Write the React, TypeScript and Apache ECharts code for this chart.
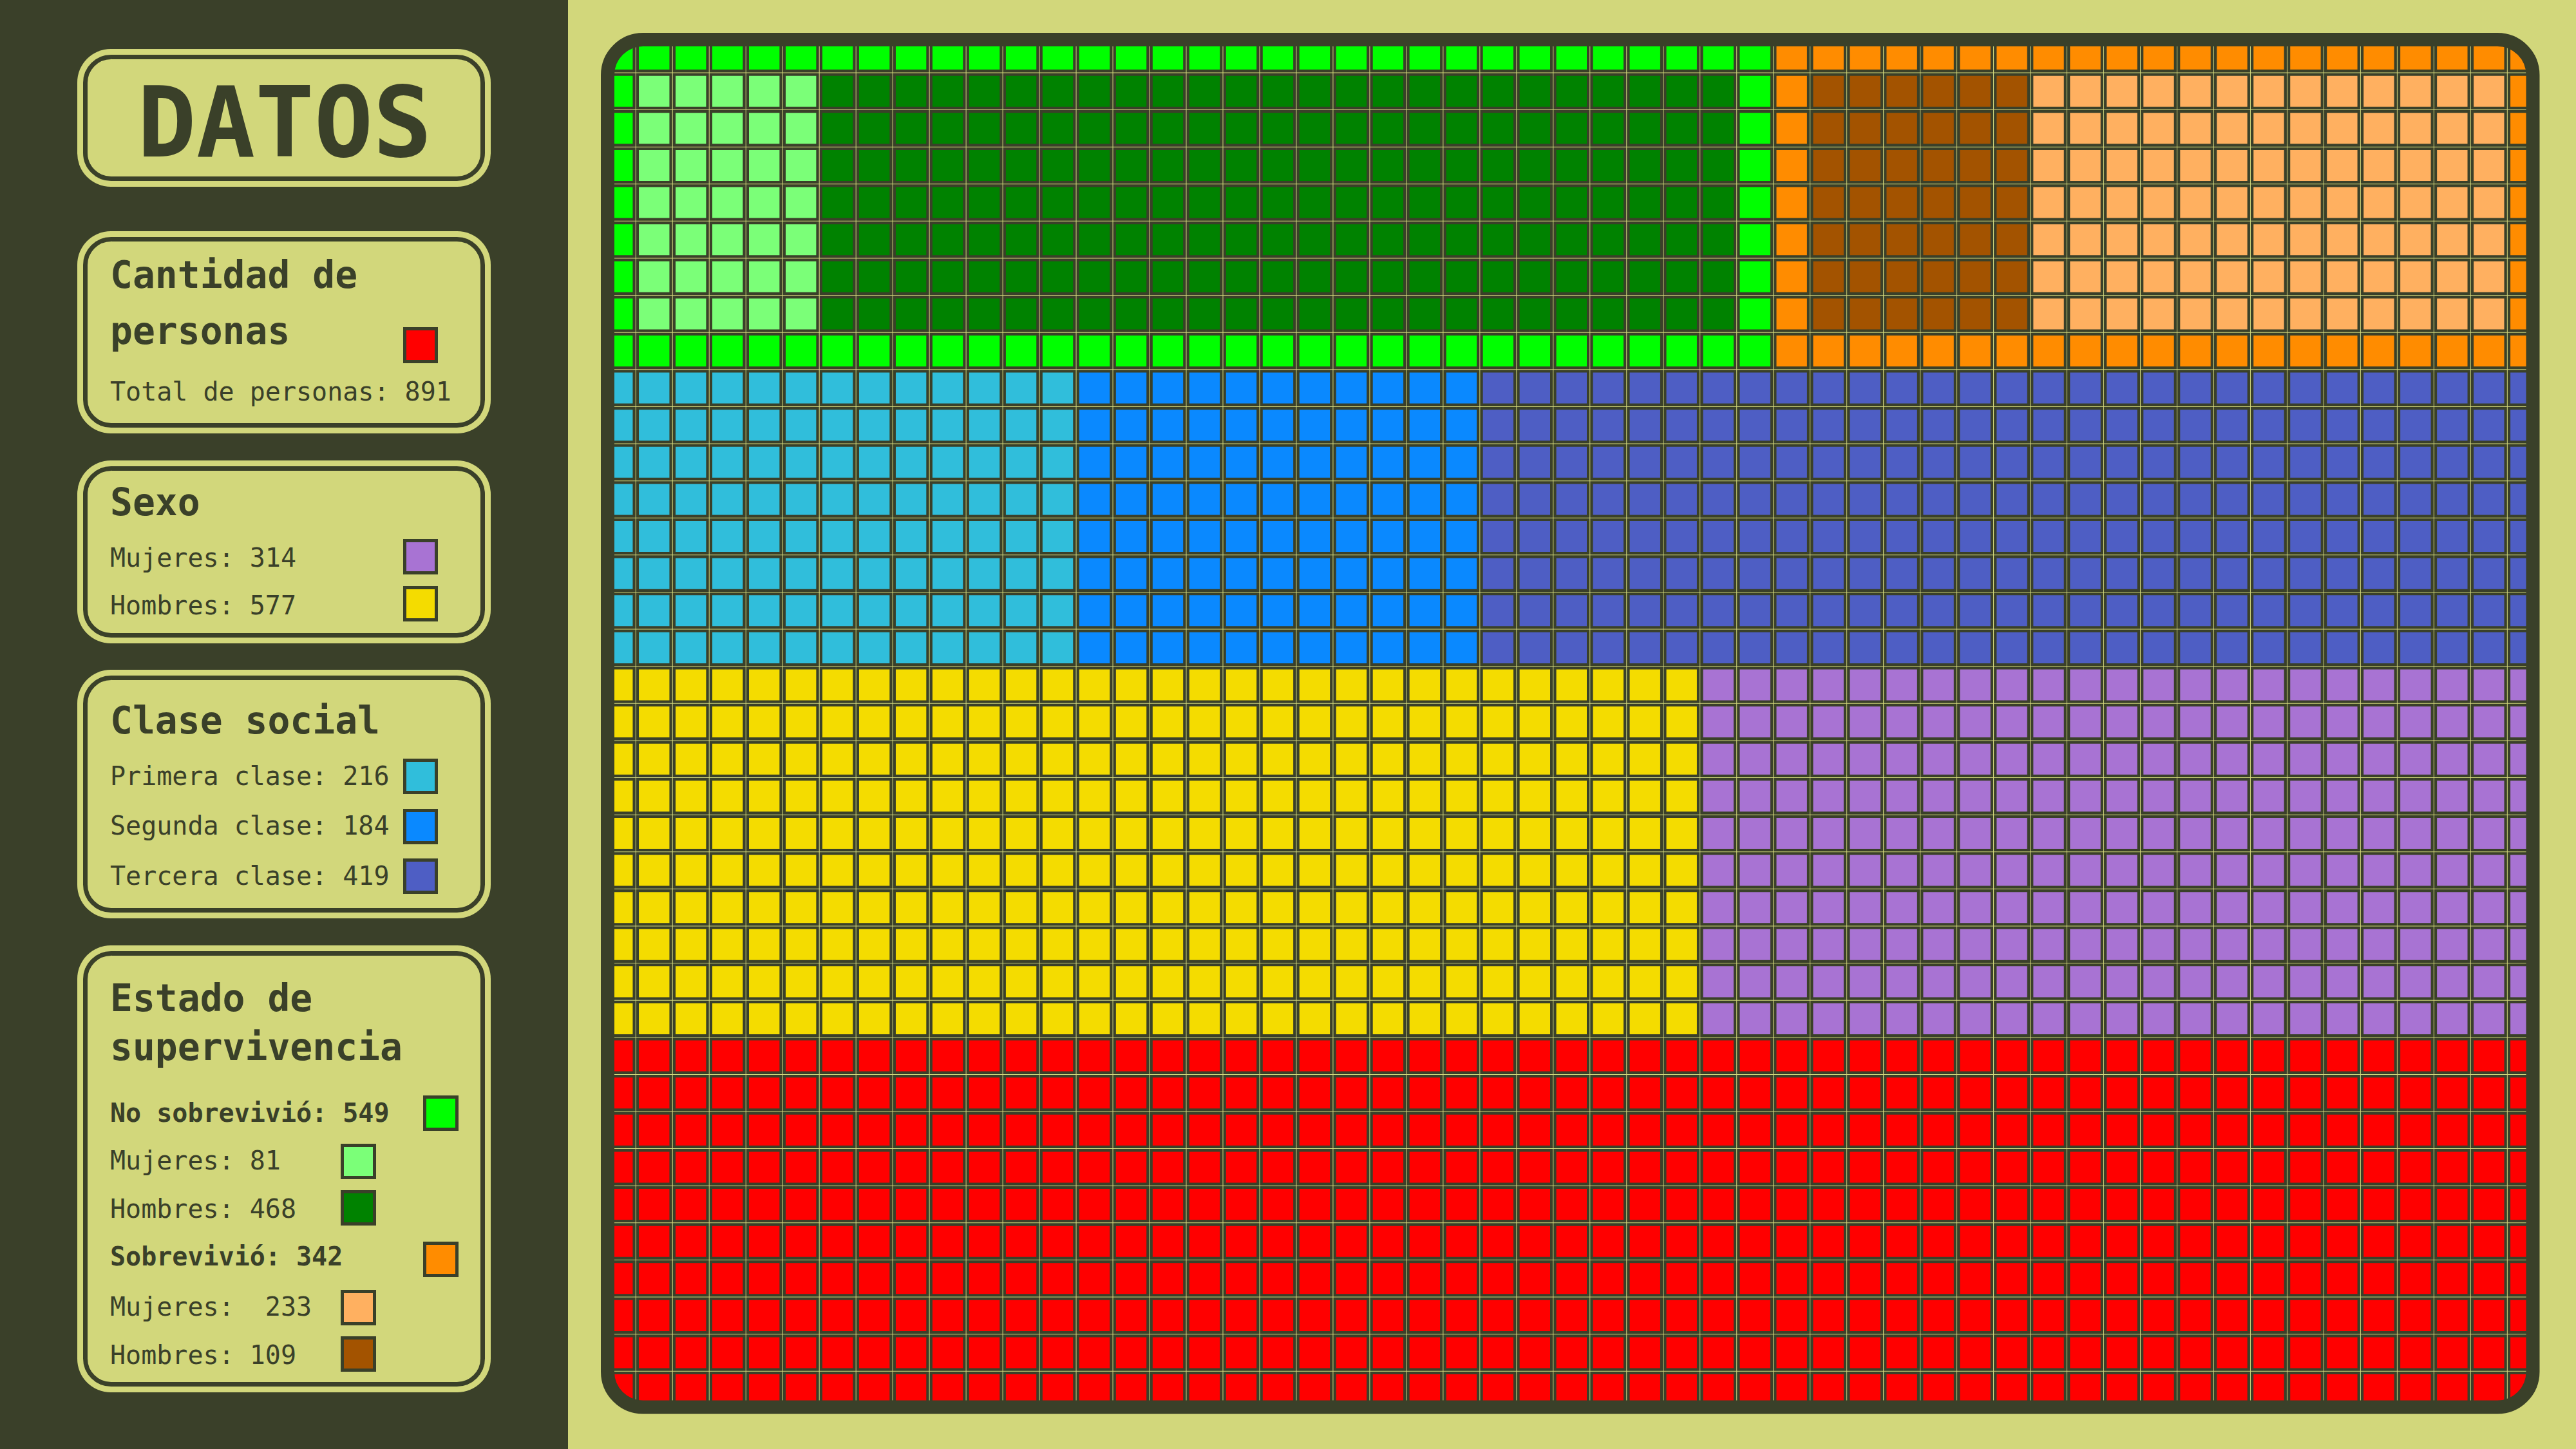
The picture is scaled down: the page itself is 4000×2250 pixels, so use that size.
import React, { useEffect, useRef } from "react";
import * as echarts from "echarts";

// ---------- data ----------
const totalPersonas = 891;
const sexoLabels = ["Mujeres", "Hombres"];
const sexoValues = [314, 577];
const claseLabels = ["Primera clase", "Segunda clase", "Tercera clase"];
const claseValues = [216, 184, 419];
const supervLabels = ["No sobrevivió", "Sobrevivió"];
const supervValues = [549, 342];
const noSobrevLabels = ["Mujeres", "Hombres"];
const noSobrevValues = [81, 468];
const sobrevLabels = ["Mujeres", "Hombres"];
const sobrevValues = [233, 109];

// waffle layout (cells per band)
const gridCols = 53;
const bandRows = [9, 8, 10, 10]; // supervivencia, clase, sexo, total
const survivalCols = [32, 21]; // no sobrevivió, sobrevivió
const survivalInnerCols = [
  [5, 25], // no sobrevivió: mujeres, hombres
  [6, 13], // sobrevivió: hombres, mujeres
];
const classCols = [13, 11, 29];
const sexCols = [30, 23]; // hombres, mujeres
const totalCols = [53];

// colours
const survivalColors = ["#00ff00", "#ff8c00"];
const survivalInnerColors = [
  ["#7bff78", "#008200"],
  ["#a35300", "#ffb060"],
];
const classColors = ["#30bedb", "#0a89ff", "#4e5ec4"];
const sexColors = ["#f4dc00", "#a873d3"];
const totalColors = ["#ff0000"];

const DARK = "#3a4029";
const LIGHT = "#d2d77b";
const FONT = "DejaVu Sans Mono";

// ---------- build cells ----------
function buildCells() {
  const cells: any[] = [];
  let row0 = 0;
  // band 1: survival (bordered blocks)
  const tr = bandRows[0];
  let col0 = 0;
  survivalCols.forEach((w, g) => {
    for (let r = 0; r < tr; r++) {
      for (let c = 0; c < w; c++) {
        const border = r === 0 || r === tr - 1 || c === 0 || c === w - 1;
        const color = border
          ? survivalColors[g]
          : c - 1 < survivalInnerCols[g][0]
          ? survivalInnerColors[g][0]
          : survivalInnerColors[g][1];
        cells.push({ value: [col0 + c, row0 + r], itemStyle: { color } });
      }
    }
    col0 += w;
  });
  row0 += tr;
  const simpleBands = [
    { cols: classCols, colors: classColors, rows: bandRows[1] },
    { cols: sexCols, colors: sexColors, rows: bandRows[2] },
    { cols: totalCols, colors: totalColors, rows: bandRows[3] },
  ];
  simpleBands.forEach((b) => {
    let cStart = 0;
    b.cols.forEach((w, i) => {
      for (let r = 0; r < b.rows; r++) {
        for (let c = 0; c < w; c++) {
          cells.push({ value: [cStart + c, row0 + r], itemStyle: { color: b.colors[i] } });
        }
      }
      cStart += w;
    });
    row0 += b.rows;
  });
  return cells;
}

const gridRows = bandRows.reduce((a, b) => a + b, 0);
const colCats = Array.from({ length: gridCols }, (_, i) => String(i));
const rowCats = Array.from({ length: gridRows }, (_, i) => String(i));

// ---------- frame geometry ----------
const FX1 = 943.5, FY1 = 61.5, FX2 = 3933, FY2 = 2185, FR = 55;
const maskPath =
  `M882 0 L4000 0 L4000 2250 L882 2250 Z ` +
  `M${FX1 + FR} ${FY1} A${FR} ${FR} 0 0 0 ${FX1} ${FY1 + FR} L${FX1} ${FY2 - FR} ` +
  `A${FR} ${FR} 0 0 0 ${FX1 + FR} ${FY2} L${FX2 - FR} ${FY2} ` +
  `A${FR} ${FR} 0 0 0 ${FX2} ${FY2 - FR} L${FX2} ${FY1 + FR} ` +
  `A${FR} ${FR} 0 0 0 ${FX2 - FR} ${FY1} Z`;

function card(y1: number, y2: number): any[] {
  const x1 = 120, x2 = 762;
  return [
    { type: "rect", z: 2, silent: true, shape: { x: x1, y: y1, width: x2 - x1, height: y2 - y1, r: 52 }, style: { fill: LIGHT } },
    { type: "rect", z: 3, silent: true, shape: { x: x1 + 12.5, y: y1 + 12.5, width: x2 - x1 - 25, height: y2 - y1 - 25, r: 40 }, style: { fill: "none", stroke: DARK, lineWidth: 7 } },
  ];
}

function txt(text: string, x: number, y: number, size: number, weight: string, align = "left"): any {
  return {
    type: "text", z: 5, silent: true, x, y,
    style: {
      text, fill: DARK, fontFamily: FONT, fontSize: size, fontWeight: weight,
      textAlign: align, align, textVerticalAlign: "middle", verticalAlign: "middle",
    },
  };
}

function swatch(x: number, y: number, w: number, h: number, color: string): any {
  return {
    type: "rect", z: 5, silent: true,
    shape: { x: x + 2.5, y: y + 2.5, width: w - 5, height: h - 5 },
    style: { fill: color, stroke: DARK, lineWidth: 5 },
  };
}

function buildGraphics(): any[] {
  const g: any[] = [];
  g.push({ type: "rect", z: 1, silent: true, shape: { x: 0, y: 0, width: 882, height: 2250 }, style: { fill: DARK } });
  // cards
  g.push(...card(76, 290));
  g.push(...card(359, 673));
  g.push(...card(715, 999));
  g.push(...card(1040, 1426));
  g.push(...card(1468, 2162));

  const TX = 171;
  const TS = 58, IS = 40;
  g.push(txt("DATOS", 442, 190, 152, "bold", "center"));

  // Cantidad de personas
  g.push(txt("Cantidad de", TX, 427, TS, "bold"));
  g.push(txt("personas", TX, 514, TS, "bold"));
  g.push(swatch(626, 508, 54, 56, totalColors[0]));
  g.push(txt(`Total de personas: ${totalPersonas}`, TX, 608, IS, "normal"));

  // Sexo
  g.push(txt("Sexo", TX, 780, TS, "bold"));
  g.push(txt(`${sexoLabels[0]}: ${sexoValues[0]}`, TX, 866, IS, "normal"));
  g.push(swatch(626, 837, 54, 55, sexColors[1]));
  g.push(txt(`${sexoLabels[1]}: ${sexoValues[1]}`, TX, 940, IS, "normal"));
  g.push(swatch(626, 910, 54, 55, sexColors[0]));

  // Clase social
  g.push(txt("Clase social", TX, 1119, TS, "bold"));
  const clsY = [1205, 1282, 1360];
  const clsSw = [1178, 1256, 1333];
  claseLabels.forEach((l, i) => {
    g.push(txt(`${l}: ${claseValues[i]}`, TX, clsY[i], IS, "normal"));
    g.push(swatch(626, clsSw[i], 54, 55, classColors[i]));
  });

  // Estado de supervivencia
  g.push(txt("Estado de", TX, 1550, TS, "bold"));
  g.push(txt("supervivencia", TX, 1626, TS, "bold"));
  g.push(txt(`${supervLabels[0]}: ${supervValues[0]}`, TX, 1728, IS, "bold"));
  g.push(swatch(657, 1701, 55, 55, survivalColors[0]));
  g.push(txt(`${noSobrevLabels[0]}: ${noSobrevValues[0]}`, TX, 1802, IS, "normal"));
  g.push(swatch(529, 1776, 55, 55, survivalInnerColors[0][0]));
  g.push(txt(`${noSobrevLabels[1]}: ${noSobrevValues[1]}`, TX, 1877, IS, "normal"));
  g.push(swatch(529, 1848, 55, 55, survivalInnerColors[0][1]));
  g.push(txt(`${supervLabels[1]}: ${supervValues[1]}`, TX, 1951, IS, "bold"));
  g.push(swatch(657, 1928, 55, 55, survivalColors[1]));
  g.push(txt(`${sobrevLabels[0]}:  ${sobrevValues[0]}`, TX, 2029, IS, "normal"));
  g.push(swatch(529, 2003, 55, 55, survivalInnerColors[1][1]));
  g.push(txt(`${sobrevLabels[1]}: ${sobrevValues[1]}`, TX, 2104, IS, "normal"));
  g.push(swatch(529, 2075, 55, 55, survivalInnerColors[1][0]));

  // grid mask + frame
  g.push({ type: "gridMask", z: 100, silent: true, x: 0, y: 0, style: { fill: LIGHT } });
  g.push({
    type: "rect", z: 101, silent: true,
    shape: { x: FX1, y: FY1, width: FX2 - FX1, height: FY2 - FY1, r: FR },
    style: { fill: "none", stroke: DARK, lineWidth: 21 },
  });
  return g;
}

export default function App() {
  const ref = useRef<HTMLDivElement>(null);
  useEffect(() => {
    if (!ref.current) return;
    echarts.graphic.registerShape("gridMask", echarts.graphic.extendPath(maskPath, {}) as any);
    const chart = echarts.init(ref.current, null, { renderer: "svg" });
    const cells = buildCells();
    chart.setOption({
      animation: false,
      backgroundColor: LIGHT,
      grid: { left: 930.3, top: 55.3, width: 3020, height: 2131.6, containLabel: false },
      xAxis: { type: "category", data: colCats, show: false },
      yAxis: { type: "category", data: rowCats, inverse: true, show: false },
      series: [
        {
          type: "custom",
          silent: true,
          clip: false,
          z: 10,
          data: cells,
          renderItem: (params: any, api: any) => {
            const p = api.coord([api.value(0), api.value(1)]);
            const s = api.size([1, 1]);
            const x0 = p[0] - s[0] / 2;
            const y0 = p[1] - s[1] / 2;
            const lw = 4.3;
            const off = 0.5 + lw / 2;
            return {
              type: "rect",
              shape: { x: x0 + off, y: y0 + off, width: s[0] - 2 * off, height: s[1] - 2 * off },
              style: { fill: api.visual("color"), stroke: DARK, lineWidth: lw },
            };
          },
        },
      ],
      graphic: { elements: buildGraphics() },
    });
    return () => chart.dispose();
  }, []);
  return (
    <div
      ref={ref}
      style={{ position: "fixed", left: 0, top: 0, width: 4000, height: 2250 }}
    />
  );
}
